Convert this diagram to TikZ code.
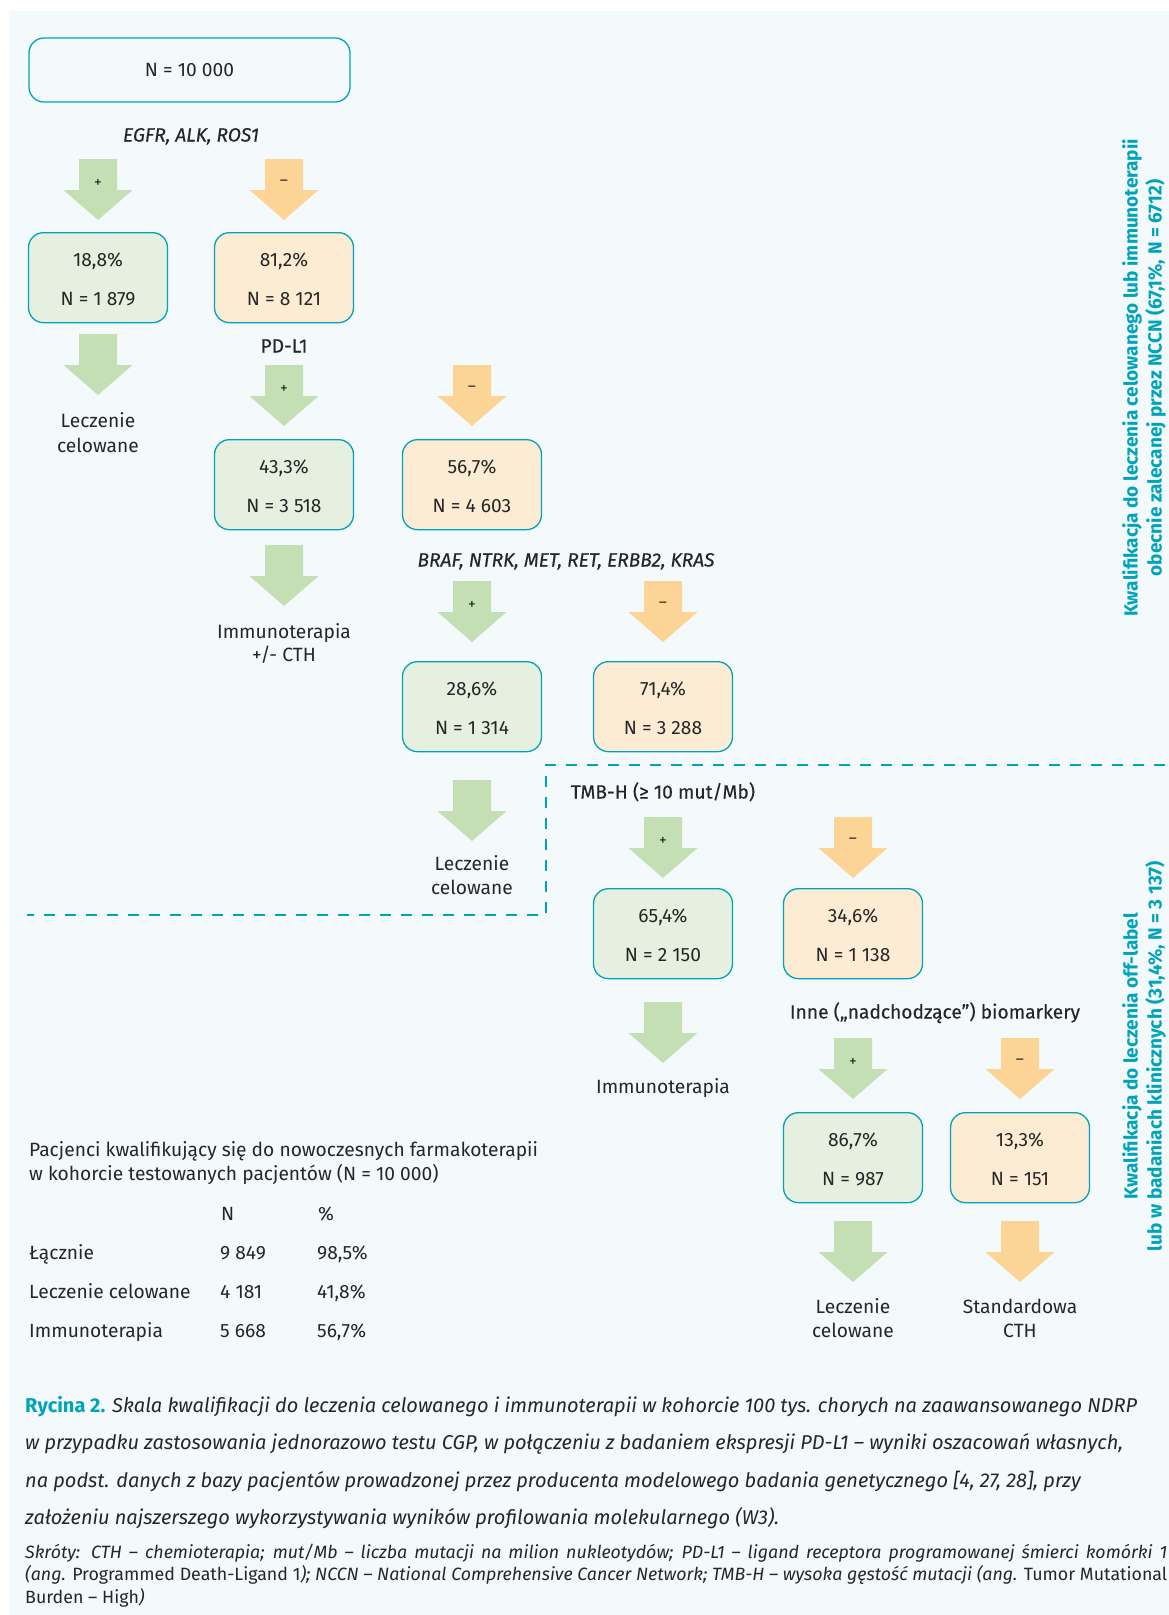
\documentclass[tikz,border=0pt]{standalone}
\usepackage{fontspec}
\setmainfont{Fira Sans}
\newfontfamily\medfont{Fira Sans}[FakeBold=0.3]

\definecolor{teal1}{RGB}{0,164,186}
\definecolor{panelbg}{RGB}{244,249,252}
\definecolor{gfill}{RGB}{230,240,224}
\definecolor{ofill}{RGB}{253,236,212}
\definecolor{garrow}{RGB}{197,223,180}
\definecolor{oarrow}{RGB}{252,212,150}
\definecolor{ink}{RGB}{38,38,38}

\newcommand\bodyfont{\fontsize{19.2}{24}\selectfont}

% result box: name, style, centre x, top y, percentage, count
\newcommand\resbox[6]{%
  \node[#2, anchor=north] (#1) at (#3,#4) {};
  \node[txt, anchor=base] (#1-p) at ([yshift=-34.5pt]#1.north) {#5};
  \node[txt, anchor=base] (#1-n) at ([yshift=-73.5pt]#1.north) {#6};
}

\tikzset{
  txt/.style={inner sep=0pt, text=ink, font=\bodyfont},
  lbl/.style={inner sep=0pt, text=ink, font=\bodyfont\medfont},
  box/.style={draw=teal1, line width=1.3pt, rounded corners=15pt,
    minimum width=139pt, minimum height=90pt, inner sep=0pt},
  gbox/.style={box, fill=gfill},
  obox/.style={box, fill=ofill},
  sign/.style={inner sep=0pt, text=ink, font=\fontsize{15.5}{15.5}\selectfont},
  vtext/.style={inner sep=0pt, text=teal1, align=center, rotate=90,
    font=\fontsize{19}{24}\selectfont\bfseries},
  dashline/.style={draw=teal1, line width=2.6pt, dash pattern=on 11pt off 10pt},
  captxt/.style={inner sep=0pt, text=ink, anchor=base west,
    font=\fontsize{20}{24}\selectfont\itshape},
  abbr/.style={inner sep=0pt, text=ink, anchor=base west,
    font=\fontsize{17.8}{22}\selectfont\itshape},
  pics/blockarrow/.style={code={
    \fill[#1] (-19,0) -- (19,0) -- (19,31) -- (34.5,31) -- (0,61)
      -- (-34.5,31) -- (-19,31) -- cycle;}},
}

\begin{document}
\begin{tikzpicture}[x=1pt, y=-1pt]
\useasboundingbox (0,0) rectangle (1169,1615);
\fill[white] (0,0) rectangle (1169,1615);
\fill[panelbg] (9,11) rectangle (1169,1615);

% starting cohort
\node[box, minimum width=321pt, minimum height=64pt, fill=panelbg] (start) at (189.5,70) {};
\node[txt, anchor=base] (start-t) at (189.5,76.5) {N = 10 000};

% level 1: EGFR, ALK, ROS1
\node[lbl, anchor=base] (l1) at (191,141.5) {\itshape EGFR, ALK, ROS1};
\pic at (98,159) {blockarrow=garrow};
\pic at (284,159) {blockarrow=oarrow};
\node[sign] (s1a) at (98,183) {+};
\node[sign] (s1b) at (284,183) {–};
\resbox{b1}{gbox}{98}{232}{18,8\%}{N = 1 879}
\resbox{b2}{obox}{284}{232}{81,2\%}{N = 8 121}
\pic at (98,334) {blockarrow=garrow};
\node[txt, anchor=base] (o1a) at (98,427) {Leczenie};
\node[txt, anchor=base] (o1b) at (98,452) {celowane};

% level 2: PD-L1
\node[lbl, anchor=base] (l2) at (284,352.5) {PD-L1};
\pic at (284,365) {blockarrow=garrow};
\pic at (472,365) {blockarrow=oarrow};
\node[sign] (s2a) at (284,389) {+};
\node[sign] (s2b) at (472,389) {–};
\resbox{b3}{gbox}{284}{439}{43,3\%}{N = 3 518}
\resbox{b4}{obox}{472}{439}{56,7\%}{N = 4 603}
\pic at (284,545) {blockarrow=garrow};
\node[txt, anchor=base] (o2a) at (284,638) {Immunoterapia};
\node[txt, anchor=base] (o2b) at (284,661) {+/- CTH};

% level 3: further driver genes
\node[lbl, anchor=base] (l3) at (566,566.5) {\itshape BRAF, NTRK, MET, RET, ERBB2, KRAS};
\pic at (472,581) {blockarrow=garrow};
\pic at (663,581) {blockarrow=oarrow};
\node[sign] (s3a) at (472,605) {+};
\node[sign] (s3b) at (663,605) {–};
\resbox{b5}{gbox}{472}{661}{28,6\%}{N = 1 314}
\resbox{b6}{obox}{663}{661}{71,4\%}{N = 3 288}
\pic at (472,780) {blockarrow=garrow};
\node[txt, anchor=base] (o3a) at (472,870) {Leczenie};
\node[txt, anchor=base] (o3b) at (472,894) {celowane};

% boundary between the two qualification zones
\coordinate (d1) at (1165,765);
\coordinate (d2) at (546,765);
\coordinate (d3) at (546,915);
\coordinate (d4) at (27,915);
\draw[dashline] (d1) -- (d2) -- (d3) -- (d4);

% level 4: TMB-H
\node[lbl, anchor=base] (l4) at (663,798.5) {TMB-H (≥ 10 mut/Mb)};
\pic at (663,817) {blockarrow=garrow};
\pic at (853,817) {blockarrow=oarrow};
\node[sign] (s4a) at (663,841) {+};
\node[sign] (s4b) at (853,841) {–};
\resbox{b7}{gbox}{663}{888}{65,4\%}{N = 2 150}
\resbox{b8}{obox}{853}{888}{34,6\%}{N = 1 138}
\pic at (663,1002) {blockarrow=garrow};
\node[txt, anchor=base] (o4a) at (663,1093) {Immunoterapia};

% level 5: emerging biomarkers
\node[lbl, anchor=base] (l5) at (935,1018.5) {Inne („nadchodzące”) biomarkery};
\pic at (853,1038) {blockarrow=garrow};
\pic at (1020,1038) {blockarrow=oarrow};
\node[sign] (s5a) at (853,1062) {+};
\node[sign] (s5b) at (1020,1062) {–};
\resbox{b9}{gbox}{853}{1112}{86,7\%}{N = 987}
\resbox{b10}{obox}{1020}{1112}{13,3\%}{N = 151}
\pic at (853,1221) {blockarrow=garrow};
\pic at (1020,1221) {blockarrow=oarrow};
\node[txt, anchor=base] (o5a) at (853,1313) {Leczenie};
\node[txt, anchor=base] (o5b) at (853,1337) {celowane};
\node[txt, anchor=base] (o6a) at (1020,1313) {Standardowa};
\node[txt, anchor=base] (o6b) at (1020,1337) {CTH};

% side annotations
\node[vtext] (q1) at (1144,378) {Kwalifikacja do leczenia celowanego lub immunoterapii\\obecnie zalecanej przez NCCN (67,1\%, N = 6712)};
\node[vtext] (q2) at (1144,1056) {Kwalifikacja do leczenia off-label\\lub w badaniach klinicznych (31,4\%, N = 3 137)};

% summary table
\node[txt, anchor=base west] (t1) at (29,1156) {Pacjenci kwalifikujący się do nowoczesnych farmakoterapii};
\node[txt, anchor=base west] (t2) at (29,1180) {w kohorcie testowanych pacjentów (N = 10 000)};
\node[txt, anchor=base west] (th1) at (221,1220) {N};
\node[txt, anchor=base west] (th2) at (318,1220) {\%};
\node[txt, anchor=base west] (r1a) at (29,1259) {Łącznie};
\node[txt, anchor=base west] (r1b) at (220,1259) {9 849};
\node[txt, anchor=base west] (r1c) at (317,1259) {98,5\%};
\node[txt, anchor=base west] (r2a) at (29,1298) {Leczenie celowane};
\node[txt, anchor=base west] (r2b) at (220,1298) {4 181};
\node[txt, anchor=base west] (r2c) at (317,1298) {41,8\%};
\node[txt, anchor=base west] (r3a) at (29,1337) {Immunoterapia};
\node[txt, anchor=base west] (r3b) at (220,1337) {5 668};
\node[txt, anchor=base west] (r3c) at (317,1337) {56,7\%};

% caption
\node[captxt] (c1) at (25,1412) {{\upshape\bfseries\color{teal1}Rycina 2.} Skala kwalifikacji do leczenia celowanego i immunoterapii w kohorcie 100 tys. chorych na zaawansowanego NDRP};
\node[captxt] (c2) at (25,1449) {w przypadku zastosowania jednorazowo testu CGP, w połączeniu z badaniem ekspresji PD-L1 – wyniki oszacowań własnych,};
\node[captxt] (c3) at (25,1487) {na podst. danych z bazy pacjentów prowadzonej przez producenta modelowego badania genetycznego [4, 27, 28], przy};
\node[captxt] (c4) at (25,1524) {założeniu najszerszego wykorzystywania wyników profilowania molekularnego (W3).};
\node[abbr] (a1) at (25,1558) {\hbox to 1142pt{Skróty: CTH – chemioterapia; mut/Mb – liczba mutacji na milion nukleotydów; PD-L1 – ligand receptora programowanej śmierci komórki 1}};
\node[abbr] (a2) at (25,1580) {\hbox to 1142pt{(ang. {\upshape Programmed Death-Ligand 1}); NCCN – National Comprehensive Cancer Network; TMB-H – wysoka gęstość mutacji (ang. {\upshape Tumor Mutational}}};
\node[abbr] (a3) at (25,1603) {{\upshape Burden – High})};
\end{tikzpicture}
\end{document}
